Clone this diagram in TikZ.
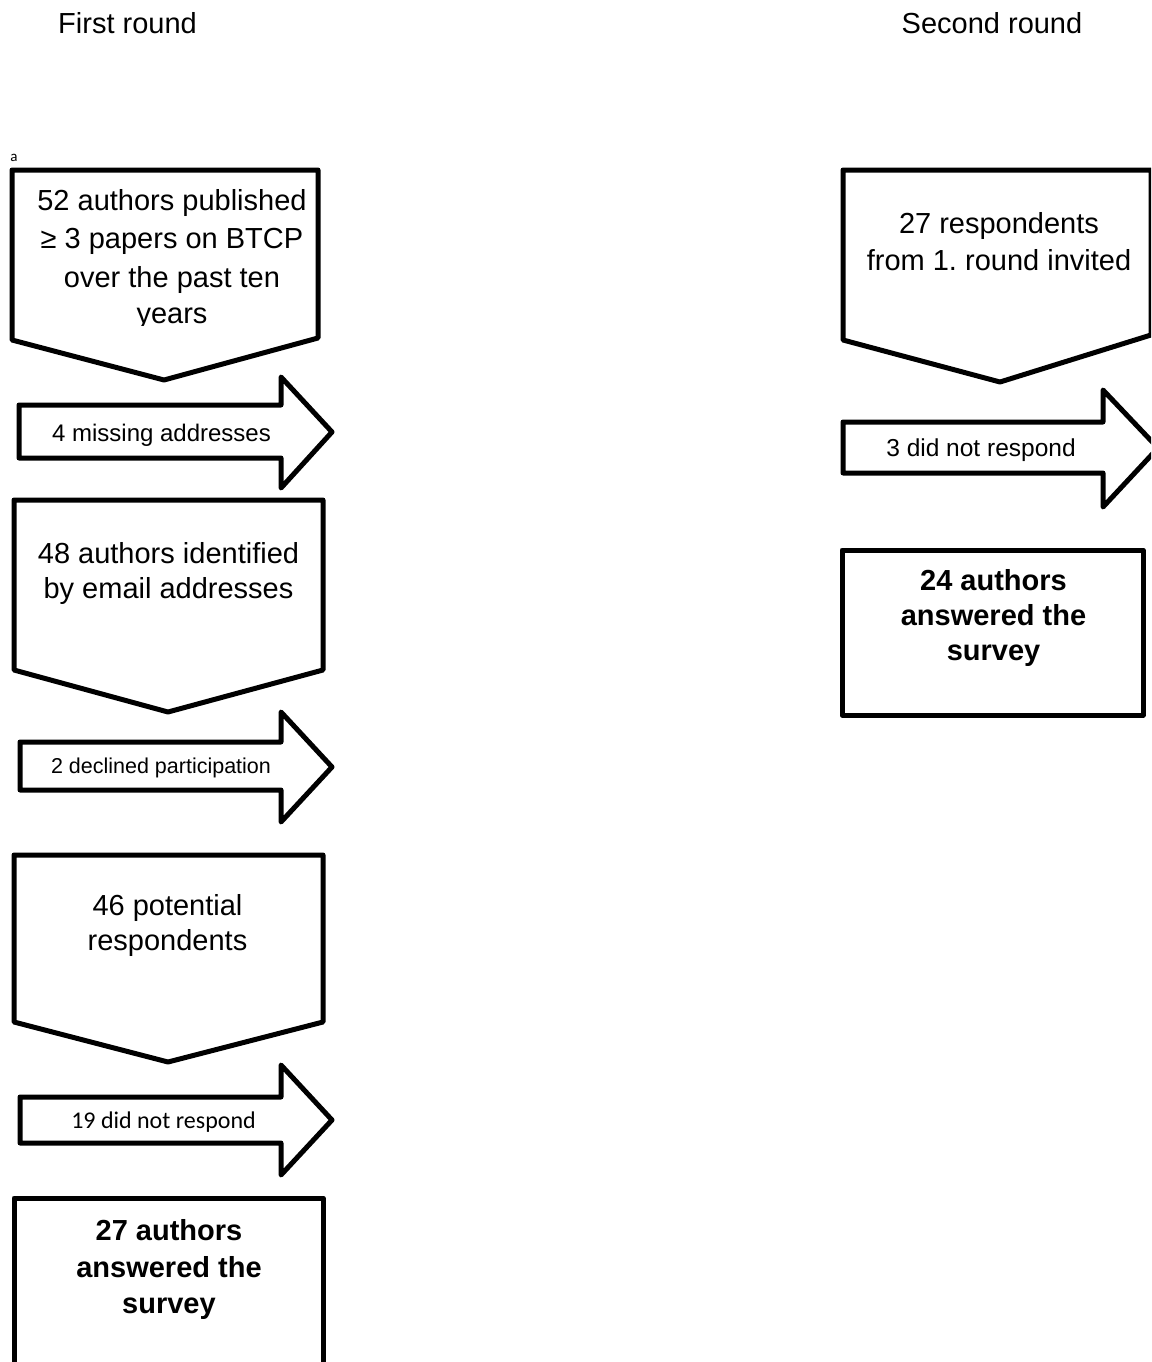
\documentclass[tikz,border=0pt]{standalone}
\usepackage{fontspec}
\setmainfont{Liberation Sans}
\newfontfamily\calibfont{Carlito}
\frenchspacing
\begin{document}
\begin{tikzpicture}[x=1pt,y=-1pt,
  shp/.style={draw=black,line width=5pt,line join=round,fill=white},
  txt/.style={anchor=base,inner sep=0pt,font=\fontsize{29}{34}\selectfont},
  btxt/.style={anchor=base,inner sep=0pt,font=\fontsize{29}{34}\selectfont\bfseries},
  atxt/.style={anchor=base,inner sep=0pt,font=\fontsize{24}{28}\selectfont}]
\useasboundingbox (0,0) rectangle (1151,1362);
\clip (0,0) rectangle (1151,1362);

% headers
\node[txt] (h1) at (127.5,34) {First round};
\node[txt] (h2) at (992,34) {Second round};
\node[anchor=base,inner sep=0pt,font=\calibfont\fontsize{15}{17}\selectfont] (lbla) at (14,161) {a};

% ---- first round ----
\draw[shp] (12,170) -- (318,170) -- (318,338) -- (164,380) -- (12,340) -- cycle;
\begin{scope}
  \clip (12,172) rectangle (318,325);
  \node[txt] (s1a) at (172,210.5) {52 authors published};
  \node[txt] (s1b) at (172,248.5) {≥ 3 papers on BTCP};
  \node[txt] (s1c) at (172,287.5) {over the past ten};
  \node[txt] (s1d) at (172,323.5) {years};
\end{scope}

\draw[shp] (19,405) -- (281,405) -- (281,377) -- (332,432) -- (281,488) -- (281,458) -- (19,458) -- cycle;
\node[atxt] (a1) at (161.5,441.5) {4 missing addresses};

\draw[shp] (14,500) -- (323,500) -- (323,670) -- (168,712) -- (14,670) -- cycle;
\node[txt] (s2a) at (168.5,563.5) {48 authors identified};
\node[txt] (s2b) at (168.5,598.5) {by email addresses};

\draw[shp] (20,742) -- (281,742) -- (281,712) -- (332,767) -- (281,822) -- (281,790) -- (20,790) -- cycle;
\node[atxt,font=\fontsize{21.5}{26}\selectfont] (a2) at (161,773) {2 declined participation};

\draw[shp] (14,855) -- (323,855) -- (323,1022) -- (168,1062) -- (14,1022) -- cycle;
\node[txt] (s3a) at (167.5,915.5) {46 potential};
\node[txt] (s3b) at (167.5,950.5) {respondents};

\draw[shp] (20,1097) -- (281,1097) -- (281,1065) -- (332,1120) -- (281,1175) -- (281,1143) -- (20,1143) -- cycle;
\node[atxt,font=\calibfont\fontsize{24}{28}\selectfont] (a3) at (163.5,1128) {19 did not respond};

\draw[shp] (14,1198) rectangle (323,1390);
\node[btxt] (b1a) at (169,1240.5) {27 authors};
\node[btxt] (b1b) at (169,1277.5) {answered the};
\node[btxt] (b1c) at (169,1313.5) {survey};

% ---- second round ----
\draw[shp] (843,170) -- (1151,170) -- (1151,335) -- (1000,382) -- (843,340) -- cycle;
\node[txt] (r1a) at (999,233.5) {27 respondents};
\node[txt] (r1b) at (999,270.5) {from 1. round invited};

\draw[shp] (843,422) -- (1103,422) -- (1103,390) -- (1158,448) -- (1103,507) -- (1103,473) -- (843,473) -- cycle;
\node[atxt,font=\fontsize{24.5}{28}\selectfont] (ar) at (981,456) {3 did not respond};

\draw[shp] (842,550) rectangle (1143,715);
\node[btxt] (b2a) at (993.5,590.5) {24 authors};
\node[btxt] (b2b) at (993.5,625.5) {answered the};
\node[btxt] (b2c) at (993.5,660.5) {survey};
\end{tikzpicture}
\end{document}
